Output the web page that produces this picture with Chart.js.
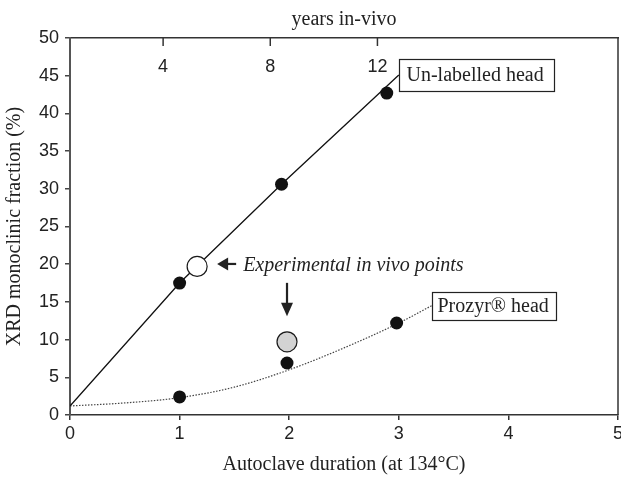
<!DOCTYPE html>
<html>
<head>
<meta charset="utf-8">
<script src="https://cdn.jsdelivr.net/npm/chart.js@4.4.1/dist/chart.umd.min.js"></script>
<style>
  html, body { margin: 0; padding: 0; background: #ffffff; }
  #wrap { width: 621px; height: 478px; }
</style>
</head>
<body>
<div id="wrap"><canvas id="c" width="621" height="478"></canvas></div>
<script>
// ---- data ----
const unlabelledX = [1.0, 1.93, 2.89];
const unlabelledY = [17.5, 30.6, 42.7];
const prozyrX = [1.0, 1.98, 2.98];
const prozyrY = [2.4, 6.9, 12.2];
const invivoX = [1.16, 1.98];
const invivoY = [19.7, 9.7];
const unlabelledLineX = [0, 1.0, 1.93, 3.0];
const unlabelledLineY = [1.2, 17.5, 30.6, 45.1];
const prozyrCurveX = [0, 0.5, 1.0, 1.5, 2.0, 2.5, 3.0, 3.3];
const prozyrCurveY = [1.2, 1.6, 2.3, 3.7, 6.0, 8.9, 12.2, 14.5];
const xTicks = [0, 1, 2, 3, 4, 5];
const yTicks = [0, 5, 10, 15, 20, 25, 30, 35, 40, 45, 50];
const yearTicks = [4, 8, 12];
const labelTexts = ['Un-labelled head', 'Prozyr® head'];
const annotationText = 'Experimental in vivo points';

const toPts = (xs, ys) => xs.map((x, i) => ({x: x, y: ys[i]}));

const SANS = '"Liberation Sans", Arial, sans-serif';
const SERIF = '"Liberation Serif", "Times New Roman", serif';
const INK = '#222222';

const extras = {
  id: 'extras',
  afterDraw(chart) {
    const {ctx, chartArea: a, scales} = chart;
    const xs = scales.x, ys = scales.y, yrs = scales.years;
    ctx.save();
    // right frame
    ctx.strokeStyle = '#333';
    ctx.lineWidth = 1.5;
    ctx.beginPath();
    ctx.moveTo(a.right, a.top);
    ctx.lineTo(a.right, a.bottom);
    ctx.stroke();
    // top (years) ticks pointing inward + labels
    ctx.fillStyle = INK;
    ctx.font = '18px ' + SANS;
    ctx.textAlign = 'center';
    ctx.textBaseline = 'alphabetic';
    yearTicks.forEach(v => {
      const px = yrs.getPixelForValue(v);
      ctx.beginPath();
      ctx.moveTo(px, a.top);
      ctx.lineTo(px, a.top + 8);
      ctx.stroke();
      ctx.fillText(String(v), px, a.top + 33.5);
    });
    // label boxes
    const boxes = [
      {text: labelTexts[0], x: unlabelledLineX[unlabelledLineX.length - 1], y: unlabelledLineY[unlabelledLineY.length - 1], w: 155, h: 32, pad: 7},
      {text: labelTexts[1], x: prozyrCurveX[prozyrCurveX.length - 1], y: prozyrCurveY[prozyrCurveY.length - 1], w: 124, h: 28, pad: 5}
    ];
    ctx.font = '20px ' + SERIF;
    ctx.textAlign = 'left';
    ctx.textBaseline = 'middle';
    ctx.lineWidth = 1.2;
    ctx.strokeStyle = INK;
    boxes.forEach(b => {
      const px = Math.round(xs.getPixelForValue(b.x)) + 0.5;
      const py = ys.getPixelForValue(b.y);
      const top = Math.round(py - b.h / 2) + 0.5;
      ctx.fillStyle = '#fff';
      ctx.fillRect(px, top, b.w, b.h);
      ctx.strokeRect(px, top, b.w, b.h);
      ctx.fillStyle = INK;
      ctx.fillText(b.text, px + b.pad, py + 1);
    });
    // left arrow + italic annotation
    const ox = xs.getPixelForValue(invivoX[0]);
    const oy = ys.getPixelForValue(invivoY[0]);
    const ay = oy - 2.5;
    ctx.fillStyle = INK;
    ctx.beginPath();
    ctx.moveTo(ox + 20, ay);
    ctx.lineTo(ox + 31, ay - 6.5);
    ctx.lineTo(ox + 31, ay + 6.5);
    ctx.closePath();
    ctx.fill();
    ctx.fillRect(ox + 30, ay - 1.1, 9, 2.2);
    ctx.font = 'italic 20px ' + SERIF;
    ctx.textBaseline = 'alphabetic';
    ctx.fillText(annotationText, ox + 46, oy + 4.5);
    // down arrow above grey point
    const gx = xs.getPixelForValue(invivoX[1]);
    const gy = ys.getPixelForValue(invivoY[1]);
    ctx.fillRect(gx - 1.1, gy - 59, 2.2, 22);
    ctx.beginPath();
    ctx.moveTo(gx, gy - 25.5);
    ctx.lineTo(gx - 6, gy - 39);
    ctx.lineTo(gx + 6, gy - 39);
    ctx.closePath();
    ctx.fill();
    ctx.restore();
  }
};

new Chart(document.getElementById('c'), {
  type: 'scatter',
  data: {
    datasets: [
      {
        label: 'In vivo (un-labelled)',
        data: toPts([invivoX[0]], [invivoY[0]]),
        pointRadius: 10, pointHoverRadius: 10,
        pointBackgroundColor: '#ffffff', pointBorderColor: '#1a1a1a', pointBorderWidth: 1.2
      },
      {
        label: 'In vivo (Prozyr)',
        data: toPts([invivoX[1]], [invivoY[1]]),
        pointRadius: 10, pointHoverRadius: 10,
        pointBackgroundColor: '#d3d3d3', pointBorderColor: '#1a1a1a', pointBorderWidth: 1.2
      },
      {
        label: 'Un-labelled head',
        data: toPts(unlabelledX, unlabelledY),
        pointRadius: 6.5, pointHoverRadius: 6.5,
        pointBackgroundColor: '#111', pointBorderColor: '#111', pointBorderWidth: 0
      },
      {
        label: 'Prozyr head',
        data: toPts(prozyrX, prozyrY),
        pointRadius: 6.5, pointHoverRadius: 6.5,
        pointBackgroundColor: '#111', pointBorderColor: '#111', pointBorderWidth: 0
      },
      {
        label: 'Un-labelled trend',
        data: toPts(unlabelledLineX, unlabelledLineY),
        showLine: true, pointRadius: 0, borderColor: '#111', borderWidth: 1.3, tension: 0
      },
      {
        label: 'Prozyr trend',
        data: toPts(prozyrCurveX, prozyrCurveY),
        showLine: true, pointRadius: 0, borderColor: '#444', borderWidth: 1.2,
        borderDash: [1.5, 1.5], cubicInterpolationMode: 'monotone'
      }
    ]
  },
  options: {
    responsive: false,
    devicePixelRatio: 1,
    animation: false,
    layout: { autoPadding: false, padding: { left: 0, right: 3, top: 0, bottom: 0 } },
    plugins: { legend: { display: false }, tooltip: { enabled: false } },
    scales: {
      x: {
        type: 'linear', position: 'bottom', min: 0, max: 5,
        afterBuildTicks: s => { s.ticks = xTicks.map(v => ({value: v})); },
        ticks: { font: { size: 18, family: SANS }, color: INK, padding: 3, maxRotation: 0, autoSkip: false },
        grid: { display: true, drawOnChartArea: false, drawTicks: true, tickLength: 5, color: '#333', lineWidth: 1.5 },
        border: { display: true, color: '#333', width: 1.5 },
        title: { display: true, text: 'Autoclave duration (at 134°C)', font: { size: 20, family: SERIF }, color: INK, padding: { top: 0, bottom: 1 } },
        afterFit: s => { s.height = 63; s.paddingLeft = 0; s.paddingRight = 0; }
      },
      years: {
        type: 'linear', position: 'top', min: 0.524, max: 20.98,
        ticks: { display: false },
        grid: { display: false },
        border: { display: true, color: '#333', width: 1.5 },
        title: { display: true, text: 'years in-vivo', font: { size: 20, family: SERIF }, color: INK, padding: { top: 8, bottom: 0 } },
        afterFit: s => { s.height = 38; s.paddingLeft = 0; s.paddingRight = 0; }
      },
      y: {
        type: 'linear', position: 'left', min: 0, max: 50,
        afterBuildTicks: s => { s.ticks = yTicks.map(v => ({value: v})); },
        ticks: { font: { size: 18, family: SANS }, color: INK, padding: 6 },
        grid: { display: true, drawOnChartArea: false, drawTicks: true, tickLength: 5, color: '#444', lineWidth: 1.5 },
        border: { display: true, color: '#555', width: 2 },
        title: { display: true, text: 'XRD monoclinic fraction (%)', font: { size: 20, family: SERIF }, color: INK, padding: { top: 3, bottom: 0 } },
        afterFit: s => { s.width = 70; s.paddingTop = 0; s.paddingBottom = 0; }
      }
    }
  },
  plugins: [extras]
});
</script>
</body>
</html>
